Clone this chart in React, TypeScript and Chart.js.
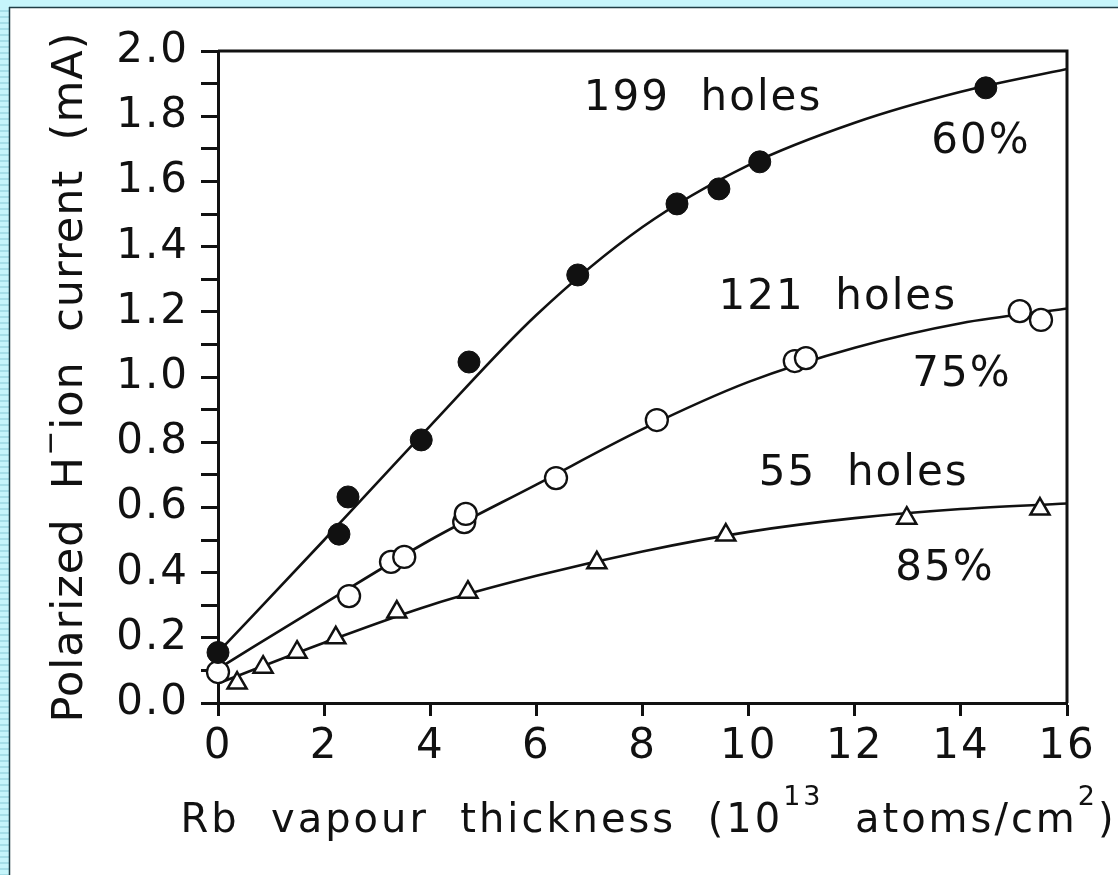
import React, { useEffect, useRef } from 'react';
import { Chart, registerables } from 'chart.js';

Chart.register(...registerables);

const FONT = '"DejaVu Sans", "Liberation Sans", sans-serif';

// measured points: 199 holes (filled circles)
const holes199X = [0, 2.28, 2.45, 3.83, 4.73, 6.78, 8.65, 9.44, 10.21, 14.47];
const holes199Y = [0.155, 0.518, 0.632, 0.807, 1.046, 1.313, 1.531, 1.577, 1.66, 1.887];
// 121 holes (open circles)
const holes121X = [0, 2.47, 3.26, 3.51, 4.64, 4.67, 6.37, 8.27, 10.87, 11.08, 15.11, 15.51];
const holes121Y = [0.095, 0.328, 0.433, 0.448, 0.555, 0.58, 0.69, 0.868, 1.049, 1.058, 1.202, 1.175];
// 55 holes (open triangles)
const holes55X = [0.36, 0.85, 1.49, 2.22, 3.37, 4.71, 7.14, 9.57, 12.98, 15.49];
const holes55Y = [0.061, 0.11, 0.156, 0.2, 0.279, 0.34, 0.43, 0.515, 0.567, 0.595];

// fitted curves
const curveX = [0, 2, 4, 6, 8, 10, 12, 14, 16];
const curve199Y = [0.155, 0.5, 0.85, 1.19, 1.46, 1.65, 1.78, 1.875, 1.945];
const curve121Y = [0.105, 0.305, 0.5, 0.67, 0.84, 0.985, 1.09, 1.165, 1.21];
const curve55Y = [0.06, 0.185, 0.3, 0.39, 0.465, 0.525, 0.567, 0.595, 0.612];

// annotations (data coordinates)
const annotationTexts = ['199  holes', '60%', '121  holes', '75%', '55  holes', '85%'];
const annotationX = [9.14, 14.38, 11.68, 14.02, 12.17, 13.7];
const annotationY = [1.853, 1.72, 1.242, 1.006, 0.702, 0.411];

const xTitleParts = [
  { t: 'Rb  vapour  thickness  (10', sup: false },
  { t: '13', sup: true },
  { t: '  atoms/cm', sup: false },
  { t: '2', sup: true },
  { t: ')', sup: false },
];
const yTitleParts = [
  { t: 'Polarized  H', sup: false },
  { t: '\u2212', sup: true },
  { t: 'ion  current  (mA)', sup: false },
];

const zip = (xs: number[], ys: number[]) => xs.map((x, i) => ({ x, y: ys[i] }));

function drawRich(ctx: any, parts: { t: string; sup: boolean }[], size: number, supSize: number, supRaise: number) {
  const widths = parts.map((p) => {
    ctx.font = `${p.sup ? supSize : size}px ${FONT}`;
    return ctx.measureText(p.t).width;
  });
  const total = widths.reduce((a, b) => a + b, 0);
  let x = -total / 2;
  parts.forEach((p, i) => {
    ctx.font = `${p.sup ? supSize : size}px ${FONT}`;
    ctx.fillText(p.t, x, p.sup ? -supRaise : 0);
    x += widths[i];
  });
}

const framePlugin = {
  id: 'frame',
  beforeDraw(chart: any) {
    const ctx = chart.ctx;
    const W = chart.width;
    const H = chart.height;
    ctx.save();
    ctx.fillStyle = '#ffffff';
    ctx.fillRect(0, 0, W, H);
    ctx.fillStyle = '#c6f5fb';
    ctx.fillRect(0, 0, W, 7);
    ctx.fillRect(0, 0, 9, H);
    ctx.fillStyle = '#a6dfe8';
    for (let y = 10; y < H; y += 6) ctx.fillRect(0, y, 9, 2);
    ctx.strokeStyle = '#1f3d45';
    ctx.lineWidth = 1.5;
    ctx.beginPath();
    ctx.moveTo(9, 7.5);
    ctx.lineTo(W, 7.5);
    ctx.moveTo(9.5, 7);
    ctx.lineTo(9.5, H);
    ctx.stroke();
    ctx.restore();
    ctx.letterSpacing = '2px';
  },
  afterDraw(chart: any) {
    const ctx = chart.ctx;
    const a = chart.chartArea;
    const xs = chart.scales.x;
    const ys = chart.scales.y;
    ctx.save();
    ctx.strokeStyle = '#111';
    ctx.lineWidth = 3;
    ctx.beginPath();
    ctx.moveTo(a.left, a.top);
    ctx.lineTo(a.right, a.top);
    ctx.lineTo(a.right, a.bottom);
    ctx.stroke();

    ctx.fillStyle = '#111';
    ctx.letterSpacing = '2px';
    ctx.textAlign = 'center';
    ctx.textBaseline = 'middle';
    ctx.font = `42px ${FONT}`;
    annotationTexts.forEach((t, i) => {
      ctx.fillText(t, xs.getPixelForValue(annotationX[i]), ys.getPixelForValue(annotationY[i]));
    });

    ctx.textAlign = 'left';
    ctx.textBaseline = 'alphabetic';
    ctx.letterSpacing = '3px';
    ctx.save();
    ctx.translate((a.left + a.right) / 2 + 6, 832);
    drawRich(ctx, xTitleParts, 40, 27, 27);
    ctx.restore();

    ctx.letterSpacing = '1px';
    ctx.save();
    ctx.translate(82, (a.top + a.bottom) / 2);
    ctx.rotate(-Math.PI / 2);
    drawRich(ctx, yTitleParts, 43, 30, 22);
    ctx.restore();
    ctx.restore();
  },
};

export default function App() {
  const ref = useRef<HTMLCanvasElement>(null);
  useEffect(() => {
    document.body.style.margin = '0';
    const black = '#111';
    const chart = new Chart(ref.current as HTMLCanvasElement, {
      type: 'scatter',
      data: {
        datasets: [
          {
            label: '199 holes',
            data: zip(holes199X, holes199Y),
            showLine: false,
            pointStyle: 'circle',
            pointRadius: 11,
            backgroundColor: black,
            borderColor: black,
            borderWidth: 1,
            clip: false,
            order: 0,
          },
          {
            label: '121 holes',
            data: zip(holes121X, holes121Y),
            showLine: false,
            pointStyle: 'circle',
            pointRadius: 11,
            backgroundColor: '#ffffff',
            borderColor: black,
            borderWidth: 2.3,
            clip: false,
            order: 0,
          },
          {
            label: '55 holes',
            data: zip(holes55X, holes55Y),
            showLine: false,
            pointStyle: 'triangle',
            pointRadius: 11,
            backgroundColor: '#ffffff',
            borderColor: black,
            borderWidth: 2.5,
            clip: false,
            order: 0,
          },
          {
            label: 'fit 199',
            data: zip(curveX, curve199Y),
            showLine: true,
            pointRadius: 0,
            borderColor: black,
            borderWidth: 2.6,
            cubicInterpolationMode: 'monotone',
            order: 1,
          },
          {
            label: 'fit 121',
            data: zip(curveX, curve121Y),
            showLine: true,
            pointRadius: 0,
            borderColor: black,
            borderWidth: 2.6,
            cubicInterpolationMode: 'monotone',
            order: 1,
          },
          {
            label: 'fit 55',
            data: zip(curveX, curve55Y),
            showLine: true,
            pointRadius: 0,
            borderColor: black,
            borderWidth: 2.6,
            cubicInterpolationMode: 'monotone',
            order: 1,
          },
        ],
      } as any,
      options: {
        responsive: false,
        animation: false,
        events: [],
        layout: { padding: { top: 51, right: 51, left: 0, bottom: 0 } },
        plugins: {
          legend: { display: false },
          tooltip: { enabled: false },
          title: { display: false },
        },
        scales: {
          x: {
            type: 'linear',
            min: 0,
            max: 16,
            afterFit: (s: any) => {
              s.height = 172;
            },
            ticks: {
              stepSize: 2,
              autoSkip: false,
              maxRotation: 0,
              color: black,
              padding: 6,
              font: { family: FONT, size: 42 },
            },
            grid: {
              drawOnChartArea: false,
              drawTicks: true,
              tickLength: 13,
              tickWidth: 3,
              tickColor: black,
            },
            border: { display: true, width: 3, color: black },
          },
          y: {
            type: 'linear',
            min: 0,
            max: 2,
            afterFit: (s: any) => {
              s.width = 218;
            },
            ticks: {
              stepSize: 0.1,
              autoSkip: false,
              color: black,
              padding: 12,
              font: { family: FONT, size: 42 },
              callback: (v: any) => (Math.round(Number(v) * 10) % 2 === 0 ? Number(v).toFixed(1) : ''),
            },
            grid: {
              drawOnChartArea: false,
              drawTicks: true,
              tickLength: 17,
              tickWidth: 3,
              tickColor: black,
            },
            border: { display: true, width: 3, color: black },
          },
        },
      } as any,
      plugins: [framePlugin],
    });
    return () => chart.destroy();
  }, []);
  return (
    <div style={{ width: 1118, height: 875 }}>
      <canvas ref={ref} width={1118} height={875} style={{ display: 'block' }} />
    </div>
  );
}
